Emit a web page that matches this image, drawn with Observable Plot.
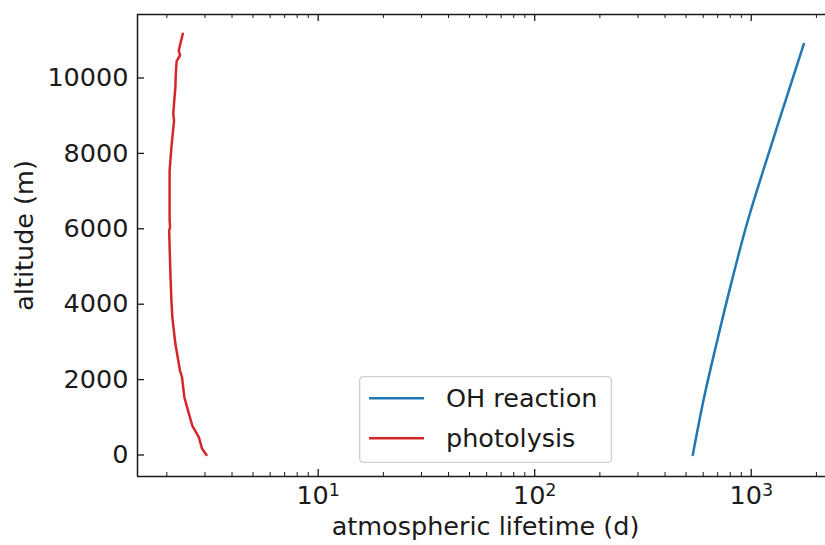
<!DOCTYPE html>
<html>
<head>
<meta charset="utf-8">
<script src="https://cdn.jsdelivr.net/npm/d3@7"></script>
<script src="https://cdn.jsdelivr.net/npm/@observablehq/plot@0.6"></script>
<style>
  html, body { margin: 0; padding: 0; background: #fff; }
  #wrap { position: relative; width: 825px; height: 545px; font-family: "DejaVu Sans", sans-serif; }
  #legend { position: absolute; left: 359px; top: 376px; }
</style>
</head>
<body>
<div id="wrap"></div>
<script>
// ---- data ----
const ohAltitude = [0, 1533, 2860, 4659, 6207, 7533, 8780, 10017, 10902];
const ohLifetime = [537, 606, 685, 817, 963, 1134, 1330, 1560, 1750];

const photAltitude = [0, 164, 472, 782, 1093, 1533, 2064, 2241, 2950, 3655, 4098, 4716, 5955, 6042, 6220, 7546, 8164, 8873, 9050, 9756, 10111, 10450, 10597, 10730, 11172];
const photLifetime = [3.05, 2.91, 2.81, 2.62, 2.53, 2.41, 2.35, 2.30, 2.19, 2.12, 2.10, 2.08, 2.05, 2.07, 2.06, 2.06, 2.10, 2.16, 2.14, 2.19, 2.20, 2.22, 2.30, 2.27, 2.37];

const seriesNames = ["OH reaction", "photolysis"];
const seriesColors = ["#1f77b4", "#d62728"];

const xTicks = [10, 100, 1000];
const xTickBase = ["10", "10", "10"];
const xTickExp = ["1", "2", "3"];
const xMinorTicks = [2,3,4,5,6,7,8,9,20,30,40,50,60,70,80,90,200,300,400,500,600,700,800,900,2000];
const yTicks = [0, 2000, 4000, 6000, 8000, 10000];

const xDomain = [1.464, 2203];
const yDomain = [-570, 11684];

const xLabel = "atmospheric lifetime (d)";
const yLabel = "altitude (m)";

// ---- build tables ----
const oh = ohAltitude.map((a, i) => ({altitude: a, lifetime: ohLifetime[i]}));
const phot = photAltitude.map((a, i) => ({altitude: a, lifetime: photLifetime[i]}));

const W = 825, H = 545;
const mL = 137, mR = 0, mT = 14, mB = 69;
const innerW = W - mL - mR, innerH = H - mT - mB;
const FS = 25.5;
const majorLen = 7, minorLen = 4;
const ink = "#1a1a1a";

const chart = Plot.plot({
  width: W, height: H,
  marginLeft: mL, marginRight: mR, marginTop: mT, marginBottom: mB,
  style: {fontFamily: "DejaVu Sans, sans-serif", fontSize: FS + "px", color: ink, background: "white"},
  x: {type: "log", domain: xDomain},
  y: {domain: yDomain},
  marks: [
    // data lines
    Plot.line(oh, {x: "lifetime", y: "altitude", stroke: seriesColors[0], strokeWidth: 2.5, curve: "monotone-y"}),
    Plot.line(phot, {x: "lifetime", y: "altitude", stroke: seriesColors[1], strokeWidth: 2.5, strokeLinejoin: "round"}),
    // spines (top, bottom, left)
    Plot.ruleY([yDomain[0]], {stroke: ink, strokeWidth: 1.5}),
    Plot.ruleY([yDomain[1]], {stroke: ink, strokeWidth: 1.5}),
    Plot.ruleX([xDomain[0]], {stroke: ink, strokeWidth: 1.5}),
    // inward ticks bottom / top
    Plot.tickX(xTicks, {x: d => d, insetTop: innerH - majorLen, stroke: ink, strokeWidth: 1.3}),
    Plot.tickX(xTicks, {x: d => d, insetBottom: innerH - majorLen, stroke: ink, strokeWidth: 1.3}),
    Plot.tickX(xMinorTicks, {x: d => d, insetTop: innerH - minorLen, stroke: ink, strokeWidth: 1.0}),
    Plot.tickX(xMinorTicks, {x: d => d, insetBottom: innerH - minorLen, stroke: ink, strokeWidth: 1.0}),
    // inward ticks left
    Plot.tickY(yTicks, {y: d => d, insetRight: innerW - majorLen, stroke: ink, strokeWidth: 1.3}),
    // tick labels
    Plot.axisX(xTicks, {tickSize: 0, tickPadding: 9, fontSize: FS, label: null,
      tickFormat: d => "\u27e8" + xTicks.indexOf(d) + "\u27e9", ariaLabel: "x-axis tick label"}),
    Plot.axisY(yTicks, {tickSize: 0, tickPadding: 9, fontSize: FS, label: null, tickFormat: d => String(d)}),
    // axis titles
    Plot.text([xLabel], {frameAnchor: "bottom", textAnchor: "middle", lineAnchor: "middle", dx: 4, dy: 50, fontSize: FS, fill: ink}),
    Plot.text([yLabel], {frameAnchor: "left", textAnchor: "middle", lineAnchor: "middle", rotate: -90, dx: -113, dy: -10, fontSize: FS, fill: ink})
  ]
});

// replace the placeholder x tick labels with "10" + raised exponent
d3.select(chart).selectAll("text").each(function() {
  const t = this.textContent;
  const m = /^\u27e8(\d+)\u27e9$/.exec(t);
  if (!m) return;
  const i = +m[1];
  const sel = d3.select(this);
  sel.text(null);
  sel.append("tspan").text(xTickBase[i]);
  sel.append("tspan").attr("dy", "-8").attr("font-size", 17.5).text(xTickExp[i]);
});

const wrap = document.getElementById("wrap");
wrap.appendChild(chart);

// ---- legend (overlay inside the axes) ----
const lg = d3.select(wrap).append("div").attr("id", "legend")
  .append("svg").attr("width", 254).attr("height", 88)
  .style("font-family", "DejaVu Sans, sans-serif");
lg.append("rect").attr("x", 0.65).attr("y", 0.65).attr("width", 251.7).attr("height", 85.7)
  .attr("rx", 3.5).attr("fill", "white").attr("fill-opacity", 0.8)
  .attr("stroke", "#d0d0d0").attr("stroke-width", 1.3);
seriesNames.forEach((name, i) => {
  const cy = 22.3 + i * 40;
  lg.append("line").attr("x1", 10).attr("x2", 65).attr("y1", cy).attr("y2", cy)
    .attr("stroke", seriesColors[i]).attr("stroke-width", 2.6);
  lg.append("text").attr("x", 87).attr("y", cy + 9).attr("font-size", FS).attr("fill", ink).text(name);
});
</script>
</body>
</html>
